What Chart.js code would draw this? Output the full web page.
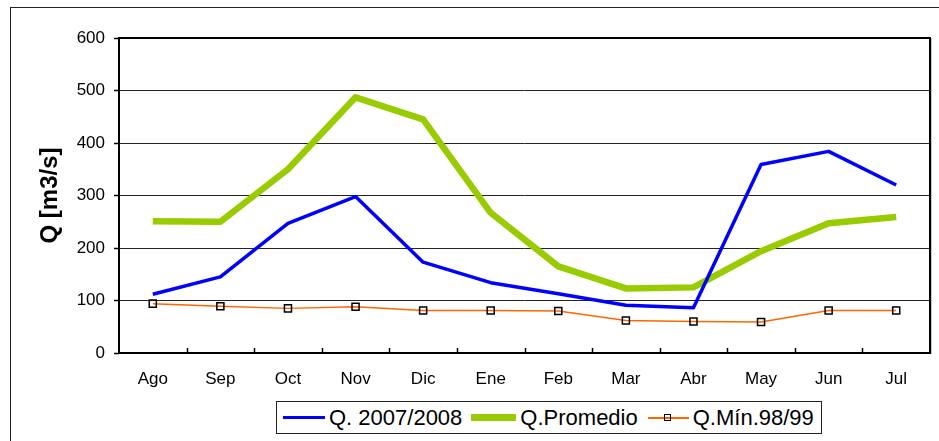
<!DOCTYPE html>
<html><head><meta charset="utf-8">
<script src="https://cdn.jsdelivr.net/npm/chart.js@4.4.0/dist/chart.umd.min.js"></script>
<style>
html,body{margin:0;padding:0;background:#fff;}
#wrap{position:relative;width:939px;height:441px;overflow:hidden;font-family:"Liberation Sans",Arial,sans-serif;}
#c{position:absolute;left:0;top:0;}
#frame{position:absolute;left:10px;top:7px;width:2000px;height:2000px;border-left:1.5px solid #222;border-top:1.5px solid #222;}
#legend{position:absolute;left:276px;top:401px;width:544px;height:31px;border:1px solid #222;display:flex;align-items:center;font-size:22px;color:#000;white-space:nowrap;background:#fff;}
.item{display:flex;align-items:center;}
.sample{position:relative;height:10px;margin-right:4px;}
.sample .ln{position:absolute;left:0;right:0;top:50%;}
.sample .mk{position:absolute;left:50%;top:50%;width:5px;height:5px;margin-left:-4px;margin-top:-4px;border:1.5px solid #000;}
</style></head>
<body>
<div id="wrap">
<div id="frame"></div>
<canvas id="c" width="939" height="441"></canvas>
<div id="legend"></div>
</div>
<script>
const months = ['Ago','Sep','Oct','Nov','Dic','Ene','Feb','Mar','Abr','May','Jun','Jul'];
const q2007 = [112,145,247,298,173,134,113,91,86,359,384,320];
const qPromedio = [251,250,350,487,445,267,165,123,125,194,247,259];
const qMin = [94,89,85,88,81,81,80,62,60,59,81,81];
const seriesNames = ['Q. 2007/2008','Q.Promedio','Q.Mín.98/99'];
const seriesColors = ['#0000FF','#99CC00','#FF6600'];
const seriesWidths = [3.5,6.5,1.5];
const yTitle = 'Q [m3/s]';
const yMin = 0, yMax = 600, yStep = 100;

const FONT = '"Liberation Sans", Arial, sans-serif';

const framePlugin = {
  id: 'framePlugin',
  beforeDatasetsDraw(chart) {
    const {ctx, chartArea: a, scales: {x}} = chart;
    ctx.save();
    ctx.strokeStyle = '#000';
    ctx.lineWidth = 2;
    ctx.strokeRect(a.left, a.top, a.right - a.left, a.bottom - a.top);
    ctx.strokeStyle = '#c8c8c8';
    ctx.lineWidth = 1;
    ctx.beginPath();
    ctx.moveTo(a.right + 1.5, a.top);
    ctx.lineTo(a.right + 1.5, a.bottom + 1);
    ctx.stroke();
    ctx.strokeStyle = '#000';
    ctx.lineWidth = 1.5;
    ctx.beginPath();
    for (let i = 0; i < months.length - 1; i++) {
      const px = Math.round((x.getPixelForValue(i) + x.getPixelForValue(i + 1)) / 2) + 0.5;
      ctx.moveTo(px, a.bottom);
      ctx.lineTo(px, a.bottom - 5);
    }
    ctx.stroke();
    ctx.restore();
  }
};

const datasets = [q2007, qPromedio, qMin].map((d, i) => ({
  label: seriesNames[i],
  data: d,
  borderColor: seriesColors[i],
  backgroundColor: seriesColors[i],
  borderWidth: seriesWidths[i],
  tension: 0,
  fill: false,
  pointRadius: i === 2 ? 5 : 0,
  pointHoverRadius: i === 2 ? 5 : 0,
  pointStyle: 'rect',
  pointBorderColor: '#000',
  pointBorderWidth: 1.5,
  pointBackgroundColor: 'rgba(0,0,0,0)',
  borderJoinStyle: 'round',
  order: i
}));

new Chart(document.getElementById('c'), {
  type: 'line',
  data: { labels: months, datasets },
  options: {
    responsive: false,
    animation: false,
    events: [],
    layout: { padding: { left: 20, top: 38, right: 9, bottom: 0 } },
    plugins: { legend: { display: false }, tooltip: { enabled: false } },
    scales: {
      x: {
        offset: true,
        grid: { display: false, drawTicks: false },
        border: { display: false },
        ticks: { color: '#000', font: { family: FONT, size: 17 }, padding: 16, maxRotation: 0 },
        afterFit(s) { s.height = 88; }
      },
      y: {
        min: yMin, max: yMax,
        ticks: { stepSize: yStep, color: '#000', font: { family: FONT, size: 17 }, padding: 9 },
        grid: { color: '#222', lineWidth: 1, tickColor: '#000', tickLength: 5, tickWidth: 1.5 },
        border: { display: false },
        title: { display: true, text: yTitle, color: '#000', font: { family: FONT, size: 24, weight: 'bold' }, padding: { top: 16, bottom: 0 } },
        afterFit(s) { s.width = 99; }
      }
    }
  },
  plugins: [framePlugin]
});

const legend = document.getElementById('legend');
const sampleW = [42, 45, 41];
const itemGap = [6, 9, 10];
const sampleLine = [3.5, 6.5, 2];
seriesNames.forEach((name, i) => {
  const it = document.createElement('div');
  it.className = 'item';
  it.style.marginLeft = itemGap[i] + 'px';
  const s = document.createElement('div');
  s.className = 'sample';
  s.style.width = sampleW[i] + 'px';
  const ln = document.createElement('div');
  ln.className = 'ln';
  ln.style.height = sampleLine[i] + 'px';
  ln.style.marginTop = (-sampleLine[i] / 2) + 'px';
  ln.style.background = seriesColors[i];
  s.appendChild(ln);
  if (i === 2) {
    const mk = document.createElement('div');
    mk.className = 'mk';
    s.appendChild(mk);
  }
  const t = document.createElement('span');
  t.textContent = name;
  it.appendChild(s);
  it.appendChild(t);
  legend.appendChild(it);
});
</script>
</body></html>
